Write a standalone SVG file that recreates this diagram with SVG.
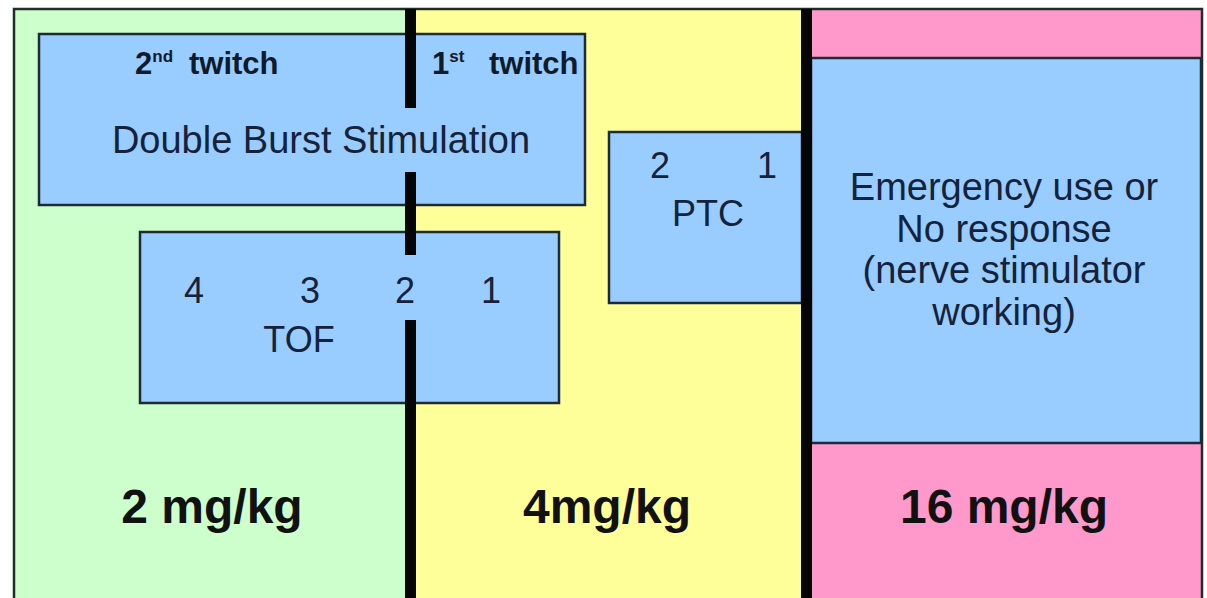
<svg xmlns="http://www.w3.org/2000/svg" width="1207" height="598" viewBox="0 0 1207 598">
  <style>
    .box { fill: #99ccff; stroke: #1c2b36; stroke-width: 2.5; }
    .t { font-family: "Liberation Sans", Arial, sans-serif; fill: #14233a; font-size: 36px; text-anchor: middle; }
    .big { font-size: 38px; }
    .tw { font-family: "Liberation Sans", Arial, sans-serif; fill: #0f1a2a; font-size: 31px; font-weight: bold; }
    .sup { font-size: 17px; }
    .dose { font-family: "Liberation Sans", Arial, sans-serif; fill: #111111; font-size: 48px; font-weight: bold; text-anchor: middle; }
    .div { fill: #050505; }
  </style>
  <rect width="1207" height="598" fill="#ffffff"/>

  <g id="region-2mgkg">
    <rect x="14" y="9" width="392" height="592" fill="#ccffcc"/>
    <text class="dose" x="212" y="523">2 mg/kg</text>
  </g>
  <g id="region-4mgkg">
    <rect x="406" y="9" width="400" height="592" fill="#ffff99"/>
    <text class="dose" x="607" y="523">4mg/kg</text>
  </g>
  <g id="region-16mgkg">
    <rect x="806" y="9" width="396" height="592" fill="#ff99cc"/>
    <text class="dose" x="1004" y="523">16 mg/kg</text>
  </g>

  <rect id="frame" x="14" y="9" width="1188" height="600" fill="none" stroke="#1e2e24" stroke-width="2.5"/>

  <g id="dbs">
    <rect class="box" x="39" y="34" width="546" height="171"/>
    <text class="tw" x="135" y="74">2<tspan class="sup" dy="-12">nd</tspan><tspan x="189" dy="12">twitch</tspan></text>
    <text class="tw" x="432" y="74">1<tspan class="sup" dy="-12">st</tspan><tspan x="489" dy="12">twitch</tspan></text>
    <text class="t big" x="321" y="153">Double Burst Stimulation</text>
  </g>

  <g id="tof">
    <rect class="box" x="140" y="232" width="419" height="171"/>
    <text class="t" x="194" y="303">4</text>
    <text class="t" x="310" y="303">3</text>
    <text class="t" x="405" y="303">2</text>
    <text class="t" x="491" y="303">1</text>
    <text class="t" x="299" y="352">TOF</text>
  </g>

  <g id="ptc">
    <rect class="box" x="609" y="132" width="193" height="171"/>
    <text class="t" x="660" y="178">2</text>
    <text class="t" x="767" y="178">1</text>
    <text class="t" x="708" y="226">PTC</text>
  </g>

  <g id="emergency">
    <rect class="box" x="811" y="58" width="390" height="385"/>
    <text class="t big" x="1004" y="200">Emergency use or</text>
    <text class="t big" x="1004" y="242">No response</text>
    <text class="t big" x="1004" y="283">(nerve stimulator</text>
    <text class="t big" x="1004" y="325">working)</text>
  </g>

  <g id="dividers">
    <rect class="div" x="405" y="9" width="11" height="99"/>
    <rect class="div" x="405" y="172" width="11" height="83"/>
    <rect class="div" x="405" y="320" width="11" height="280"/>
    <rect class="div" x="801" y="9" width="11" height="591"/>
  </g>
</svg>
